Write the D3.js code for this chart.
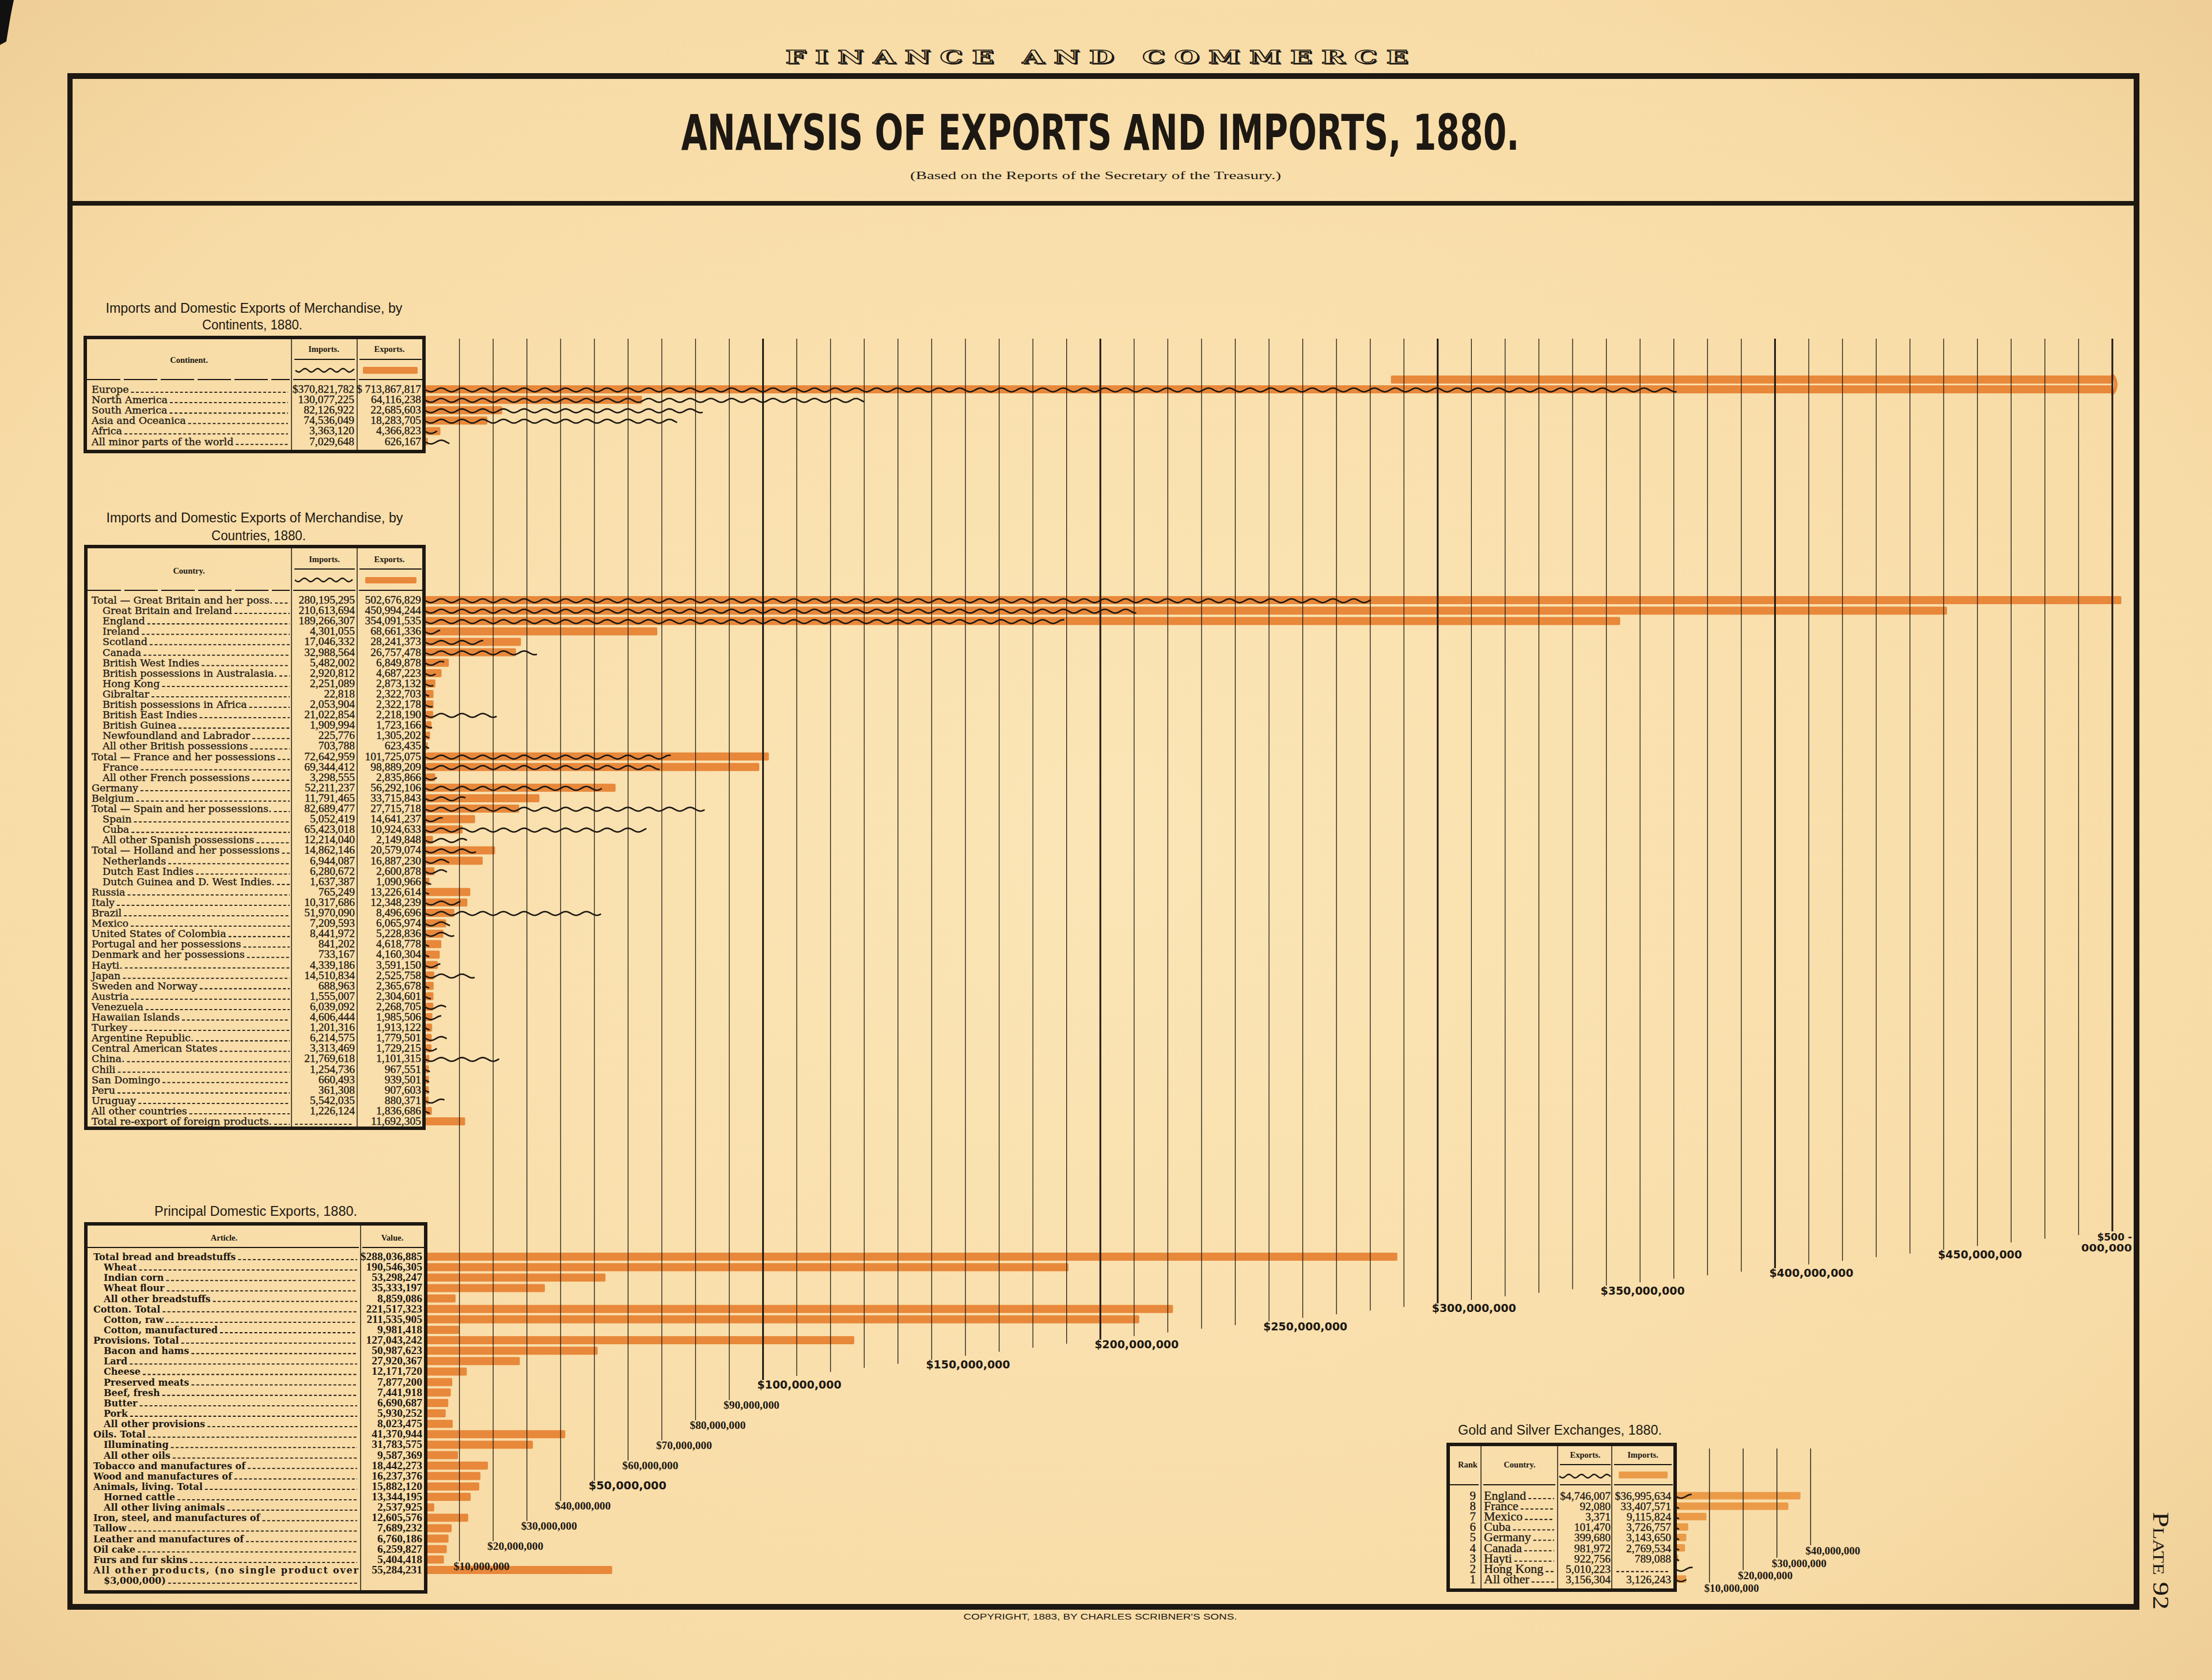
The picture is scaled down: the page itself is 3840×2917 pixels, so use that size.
<!DOCTYPE html>
<html><head><meta charset="utf-8">
<script src="https://cdn.jsdelivr.net/npm/d3@7"></script>
<style>body{margin:0;background:#f8dea9}svg{display:block}</style>
</head><body>
<script>
// ---------------- DATA ----------------
const continents=["Europe","North America","South America","Asia and Oceanica","Africa","All minor parts of the world"];
const continentImports=[370821782,130077225,82126922,74536049,3363120,7029648];
const continentExports=[713867817,64116238,22685603,18283705,4366823,626167];

const countries=["Total — Great Britain and her poss.","Great Britain and Ireland","England","Ireland","Scotland","Canada","British West Indies","British possessions in Australasia.","Hong Kong","Gibraltar","British possessions in Africa","British East Indies","British Guinea","Newfoundland and Labrador","All other British possessions","Total — France and her possessions","France","All other French possessions","Germany","Belgium","Total — Spain and her possessions.","Spain","Cuba","All other Spanish possessions","Total — Holland and her possessions","Netherlands","Dutch East Indies","Dutch Guinea and D. West Indies.","Russia","Italy","Brazil","Mexico","United States of Colombia","Portugal and her possessions","Denmark and her possessions","Hayti.","Japan","Sweden and Norway","Austria","Venezuela","Hawaiian Islands","Turkey","Argentine Republic.","Central American States","China.","Chili","San Domingo","Peru","Uruguay","All other countries","Total re-export of foreign products."];
const countryIndent=[0,1,1,1,1,1,1,1,1,1,1,1,1,1,1,0,1,1,0,0,0,1,1,1,0,1,1,1,0,0,0,0,0,0,0,0,0,0,0,0,0,0,0,0,0,0,0,0,0,0,0];
const countryImports=[280195295,210613694,189266307,4301055,17046332,32988564,5482002,2920812,2251089,22818,2053904,21022854,1909994,225776,703788,72642959,69344412,3298555,52211237,11791465,82689477,5052419,65423018,12214040,14862146,6944087,6280672,1637387,765249,10317686,51970090,7209593,8441972,841202,733167,4339186,14510834,688963,1555007,6039092,4606444,1201316,6214575,3313469,21769618,1254736,660493,361308,5542035,1226124,null];
const countryExports=[502676829,450994244,354091535,68661336,28241373,26757478,6849878,4687223,2873132,2322703,2322178,2218190,1723166,1305202,623435,101725075,98889209,2835866,56292106,33715843,27715718,14641237,10924633,2149848,20579074,16887230,2600878,1090966,13226614,12348239,8496696,6065974,5228836,4618778,4160304,3591150,2525758,2365678,2304601,2268705,1985506,1913122,1779501,1729215,1101315,967551,939501,907603,880371,1836686,11692305];

const articles=["Total bread and breadstuffs","Wheat","Indian corn","Wheat flour","All other breadstuffs","Cotton.  Total","Cotton, raw","Cotton, manufactured","Provisions.  Total","Bacon and hams","Lard","Cheese","Preserved meats","Beef, fresh","Butter","Pork","All other provisions","Oils.  Total","Illuminating","All other oils","Tobacco and manufactures of","Wood and manufactures of","Animals, living.  Total","Horned cattle","All other living animals","Iron, steel, and manufactures of","Tallow","Leather and manufactures of","Oil cake","Furs and fur skins","All other products, (no single product over"];
const articleIndent=[0,1,1,1,1,0,1,1,0,1,1,1,1,1,1,1,1,0,1,1,0,0,0,1,1,0,0,0,0,0,0];
const articleValues=[288036885,190546305,53298247,35333197,8859086,221517323,211535905,9981418,127043242,50987623,27920367,12171720,7877200,7441918,6690687,5930252,8023475,41370944,31783575,9587369,18442273,16237376,15882120,13344195,2537925,12605576,7689232,6760186,6259827,5404418,55284231];

const goldRanks=[9,8,7,6,5,4,3,2,1];
const goldCountries=["England","France","Mexico","Cuba","Germany","Canada","Hayti","Hong Kong","All other"];
const goldExports=[4746007,92080,3371,101470,399680,981972,922756,5010223,3156304];
const goldImports=[36995634,33407571,9115824,3726757,3143650,2769534,789088,null,3126243];

const gridValuesM=[10,20,30,40,50,60,70,80,90,100,110,120,130,140,150,160,170,180,190,200,210,220,230,240,250,260,270,280,290,300,310,320,330,340,350,360,370,380,390,400,410,420,430,440,450,460,470,480,490,500];
const labeledTicksM=[10,20,30,40,50,60,70,80,90,100,150,200,250,300,350,400,450];
const goldTicksM=[10,20,30,40];

// ---------------- SETUP ----------------
const M=1e6, W=3840, H=2917;
const ink="#1d1812", orange="#e8883b", goldOrange="#eb9b48";
const fmt=d3.format(",");
const svg=d3.select("body").append("svg").attr("width",W).attr("height",H);
const defs=svg.append("defs");
const rg=defs.append("radialGradient").attr("id","paper").attr("cx","50%").attr("cy","50%").attr("r","75%");
rg.append("stop").attr("offset","0%").attr("stop-color","#fbe5b6");
rg.append("stop").attr("offset","70%").attr("stop-color","#f8dca7");
rg.append("stop").attr("offset","100%").attr("stop-color","#eccb92");
svg.append("rect").attr("width",W).attr("height",H).attr("fill","url(#paper)");
svg.append("path").attr("d","M0,0 L24,0 C19,22 15,48 11,72 L0,78 Z").attr("fill","#111");

const x=d3.scaleLinear().domain([0,500*M]).range([739,3667]);
const pxPerM=(x(M)-x(0));
const xg=d3.scaleLinear().domain([0,40*M]).range([2909,2909+40*pxPerM]);
const gridEnd=d3.scaleLinear().domain([10,100,200,300,400,500].map(v=>v*M)).range([2711,2396,2326,2263,2202,2138]);
const goldEnd=d3.scaleLinear().domain([10*M,40*M]).range([2748,2683]);

const contY=d3.scaleBand().domain(continents).range([667,667+6*18.1]);
const countryY=d3.scaleBand().domain(countries).range([1033,1033+51*18.1]);
const articleY=d3.scaleBand().domain(articles).range([2173,2173+31*18.13]);
const goldY=d3.scaleBand().domain(goldCountries).range([2588,2588+9*18.1]);
const mid=(s,d)=>s(d)+s.bandwidth()/2;

// ---------------- FRAME & TITLES ----------------
const frame=svg.append("g").attr("fill",ink);
frame.append("rect").attr("x",117).attr("y",127).attr("width",3597).attr("height",10);
frame.append("rect").attr("x",117).attr("y",127).attr("width",9).attr("height",2668);
frame.append("rect").attr("x",3704).attr("y",127).attr("width",10).attr("height",2668);
frame.append("rect").attr("x",117).attr("y",2785).attr("width",3597).attr("height",10);
frame.append("rect").attr("x",117).attr("y",349).attr("width",3597).attr("height",8);

const t=svg.append("g");
const fc=t.append("g").attr("transform","translate(0,110) scale(1,0.74)");
fc.append("text").attr("x",1915).attr("y",3).attr("text-anchor","middle").attr("font-family","DejaVu Serif").attr("font-weight","bold").attr("font-size",43).attr("letter-spacing",14).attr("textLength",1097).attr("lengthAdjust","spacingAndGlyphs").attr("fill",ink).text("FINANCE AND COMMERCE");
fc.append("text").attr("x",1912).attr("y",0).attr("text-anchor","middle").attr("font-family","DejaVu Serif").attr("font-weight","bold").attr("font-size",43).attr("letter-spacing",14).attr("textLength",1097).attr("lengthAdjust","spacingAndGlyphs").attr("fill","#f8dda8").attr("stroke",ink).attr("stroke-width",2).text("FINANCE AND COMMERCE");
t.append("text").attr("x",1910).attr("y",260).attr("text-anchor","middle").attr("font-family","DejaVu Sans").attr("font-weight","bold").attr("font-size",86).attr("textLength",1455).attr("lengthAdjust","spacingAndGlyphs").attr("fill",ink).text("ANALYSIS OF EXPORTS AND IMPORTS, 1880.");
t.append("text").attr("x",1902).attr("y",311).attr("text-anchor","middle").attr("font-family","Liberation Serif").attr("font-size",19).attr("textLength",644).attr("lengthAdjust","spacingAndGlyphs").attr("fill",ink).text("(Based on the Reports of the Secretary of the Treasury.)");
t.append("text").attr("x",1910).attr("y",2812).attr("text-anchor","middle").attr("font-family","Liberation Sans").attr("font-size",14).attr("textLength",475).attr("lengthAdjust","spacingAndGlyphs").attr("fill",ink).text("COPYRIGHT, 1883, BY CHARLES SCRIBNER'S SONS.");
t.append("text").attr("transform","translate(3738,2710) rotate(90)").attr("text-anchor","middle").attr("font-family","Liberation Serif").attr("font-size",40).attr("font-variant","small-caps").attr("textLength",170).attr("lengthAdjust","spacingAndGlyphs").attr("fill",ink).text("Plate 92");

function secTitle(txt,cx,y,w,anchor){
  t.append("text").attr("x",cx).attr("y",y).attr("text-anchor",anchor||"middle").attr("font-family","Liberation Sans").attr("font-size",23).attr("textLength",w).attr("lengthAdjust","spacingAndGlyphs").attr("fill",ink).text(txt);
}
secTitle("Imports and Domestic Exports of Merchandise, by",441,543,515);
secTitle("Continents, 1880.",438,572,174);
secTitle("Imports and Domestic Exports of Merchandise, by",442,907,515);
secTitle("Countries, 1880.",449,938,164);
secTitle("Principal Domestic Exports, 1880.",444,2111,352);
secTitle("Gold and Silver Exchanges, 1880.",2531,2491,354,"start");

// ---------------- HELPERS ----------------
function wavePath(x0,x1,yc,amp,len){
  amp=amp||3.2; len=len||36;
  const pts=[]; for(let xx=x0; xx<=x1; xx+=1.5) pts.push([xx,yc+amp*Math.sin((xx-x0)/len*2*Math.PI)]);
  pts.push([x1,yc+amp*Math.sin((x1-x0)/len*2*Math.PI)]);
  return d3.line()(pts);
}
function leader(g,x0,x1,y){ if(x1-x0<7) return; g.append("line").attr("x1",x0).attr("x2",x1).attr("y1",y).attr("y2",y).attr("stroke",ink).attr("stroke-width",1.8).attr("stroke-dasharray","5,3.5"); }
function txt(g,s,xx,y,opt){
  const e=g.append("text").attr("x",xx).attr("y",y).attr("fill",ink).attr("stroke",ink).attr("stroke-width",opt.sw==null?0.35:opt.sw)
    .attr("font-family",opt.family).attr("font-size",opt.size).attr("font-weight",opt.weight||"normal").attr("text-anchor",opt.anchor||"start").text(s);
  let w=e.node().getComputedTextLength();
  if(opt.maxX && xx+w>opt.maxX){ e.attr("textLength",opt.maxX-xx).attr("lengthAdjust","spacingAndGlyphs"); w=opt.maxX-xx; }
  if(opt.fit){ e.attr("textLength",opt.fit).attr("lengthAdjust","spacing"); w=opt.fit; }
  return xx+w;
}
function box(g,x0,y0,x1,y1,divs){
  g.append("rect").attr("x",x0).attr("y",y0).attr("width",x1-x0).attr("height",y1-y0).attr("fill","none").attr("stroke",ink).attr("stroke-width",6);
  divs.forEach(d=>g.append("line").attr("x1",d).attr("x2",d).attr("y1",y0+3).attr("y2",y1-3).attr("stroke",ink).attr("stroke-width",1.5));
}
function hline(g,x0,x1,y,dash){ const l=g.append("line").attr("x1",x0).attr("x2",x1).attr("y1",y).attr("y2",y).attr("stroke",ink).attr("stroke-width",1.8); if(dash) l.attr("stroke-dasharray",dash); }
function head(g,s,xx,y){ g.append("text").attr("x",xx).attr("y",y).attr("text-anchor","middle").attr("font-family","Liberation Serif").attr("font-weight","bold").attr("font-size",14.5).attr("fill",ink).text(s); }
function legend(g,wx0,wx1,wy,ox0,ox1,oy0,oy1){
  g.append("path").attr("d",wavePath(wx0,wx1,wy,3,22)).attr("fill","none").attr("stroke",ink).attr("stroke-width",2.4);
  g.append("rect").attr("x",ox0).attr("y",oy0).attr("width",ox1-ox0).attr("height",oy1-oy0).attr("rx",2).attr("fill",orange);
}
const nameF={family:"DejaVu Serif",size:17.5};
const numF={family:"Liberation Serif",size:19.5,anchor:"end"};

// ---------------- BARS (drawn below grid) ----------------
const bars=svg.append("g");
const BH=14;
function bar(val,yc,col,scale){ const s=scale||x; bars.append("rect").attr("x",s(0)).attr("y",yc-BH/2).attr("width",Math.max(0,s(val)-s(0))).attr("height",BH).attr("rx",2).attr("fill",col||orange); }
continents.forEach((c,i)=>{
  const yc=mid(contY,c), v=continentExports[i];
  if(v>505*M){
    bar(500*M,yc);
    const over=v-500*M;
    bars.append("rect").attr("x",x(500*M-over)).attr("y",yc-17-BH/2).attr("width",x(500*M)-x(500*M-over)).attr("height",BH).attr("rx",2).attr("fill",orange);
    bars.append("path").attr("d",`M${x(500*M)-2},${yc-17-BH/2} a8,${(17+BH)/2} 0 0 1 0,${17+BH}`).attr("fill","none").attr("stroke",orange).attr("stroke-width",6);
  } else bar(v,yc);
});
countries.forEach((c,i)=>bar(countryExports[i],mid(countryY,c)));
articles.forEach((a,i)=>bar(articleValues[i],mid(articleY,a)));
goldCountries.forEach((c,i)=>{ if(goldImports[i]!=null) bars.append("rect").attr("x",xg(0)).attr("y",mid(goldY,c)-6.5).attr("width",xg(goldImports[i])-xg(0)).attr("height",13).attr("rx",2).attr("fill",goldOrange); });

// ---------------- GRID ----------------
const grid=svg.append("g");
gridValuesM.forEach(m=>{
  const v=m*M;
  grid.append("line").attr("x1",x(v)).attr("x2",x(v)).attr("y1",588).attr("y2",gridEnd(v)).attr("stroke",ink).attr("stroke-width",m%100===0?3:1.3);
});
labeledTicksM.forEach(m=>{
  const v=m*M, major=m%50===0, s=d3.format("$,")(v);
  grid.append("text").attr("x",x(v)-10).attr("y",gridEnd(v)+15)
    .attr("font-family",major?"DejaVu Sans":"Liberation Serif").attr("font-weight","bold").attr("font-size",19)
    .attr("textLength",major?(s.length>11?146:135):97).attr("lengthAdjust","spacingAndGlyphs").attr("fill",ink).text(s);
});
grid.append("text").attr("x",3701).attr("y",2154).attr("text-anchor","end").attr("font-family","DejaVu Sans").attr("font-weight","bold").attr("font-size",17).attr("fill",ink).text("$500 -");
grid.append("text").attr("x",3701).attr("y",2173).attr("text-anchor","end").attr("font-family","DejaVu Sans").attr("font-weight","bold").attr("font-size",17).attr("textLength",88).attr("lengthAdjust","spacingAndGlyphs").attr("fill",ink).text("000,000");
goldTicksM.forEach(m=>{
  const v=m*M;
  grid.append("line").attr("x1",xg(v)).attr("x2",xg(v)).attr("y1",2515).attr("y2",goldEnd(v)).attr("stroke",ink).attr("stroke-width",1.4);
  grid.append("text").attr("x",xg(v)-9).attr("y",goldEnd(v)+16).attr("font-family","Liberation Serif").attr("font-weight","bold").attr("font-size",19).attr("textLength",95).attr("lengthAdjust","spacingAndGlyphs").attr("fill",ink).text(d3.format("$,")(v));
});

// ---------------- WAVY IMPORT LINES ----------------
const waves=svg.append("g").attr("fill","none").attr("stroke",ink).attr("stroke-width",2.6);
function wave(val,yc,scale){ const s=scale||x; if(val==null) return; const x1=Math.max(s(val),s(0)+6); waves.append("path").attr("d",wavePath(s(0),x1,yc+1)); }
continents.forEach((c,i)=>wave(continentImports[i],mid(contY,c)));
countries.forEach((c,i)=>wave(countryImports[i],mid(countryY,c)));
goldCountries.forEach((c,i)=>wave(goldExports[i],mid(goldY,c),xg));

// ---------------- TABLES ----------------
const tb=svg.append("g");
// Continents
box(tb,148,586,736,784,[506,620]);
head(tb,"Continent.",328,630); head(tb,"Imports.",562,611); head(tb,"Exports.",676,611);
hline(tb,511,616,624); hline(tb,624,732,624);
legend(tb,513,615,643,630,725,637,649);
hline(tb,151,503,659,"58,6"); hline(tb,509,617,659); hline(tb,623,733,659);
continents.forEach((c,i)=>{
  const yc=mid(contY,c);
  const e=txt(tb,c,159,yc+6,Object.assign({maxX:500},nameF));
  leader(tb,e+4,500,yc+5);
  txt(tb,(i===0?"$":"")+fmt(continentImports[i]),615,yc+6,numF);
  txt(tb,(i===0?"$ ":"")+fmt(continentExports[i]),731,yc+6,numF);
});
// Countries
box(tb,149,949,736,1959,[506,620]);
head(tb,"Country.",328,996); head(tb,"Imports.",563,976); head(tb,"Exports.",676,976);
hline(tb,511,616,988); hline(tb,624,732,988);
legend(tb,512,612,1007,634,723,1002,1013);
hline(tb,152,503,1025,"58,6"); hline(tb,509,617,1025); hline(tb,623,733,1025);
countries.forEach((c,i)=>{
  const yc=mid(countryY,c), xx=159+(countryIndent[i]?19:0);
  const e=txt(tb,c,xx,yc+6,Object.assign({maxX:503},nameF));
  leader(tb,e+4,503,yc+5);
  if(countryImports[i]==null) leader(tb,512,614,yc+5); else txt(tb,fmt(countryImports[i]),616,yc+6,numF);
  txt(tb,fmt(countryExports[i]),731,yc+6,numF);
});
// Principal domestic exports
box(tb,149,2125,739,2764,[626]);
head(tb,"Article.",389,2154); head(tb,"Value.",681,2154);
hline(tb,152,623,2166); hline(tb,629,736,2166);
const artF={family:"DejaVu Serif",size:16,weight:"bold",sw:0};
articles.forEach((a,i)=>{
  const yc=mid(articleY,a), xx=162+(articleIndent[i]?18:0);
  if(i===articles.length-1){
    txt(tb,a,xx,yc+6,Object.assign({fit:622-xx},artF));
    const e2=txt(tb,"$3,000,000)",180,yc+24,artF);
    leader(tb,e2+4,620,yc+23);
  } else {
    const e=txt(tb,a,xx,yc+6,Object.assign({maxX:620},artF));
    leader(tb,e+4,620,yc+5);
  }
  txt(tb,(i===0?"$":"")+fmt(articleValues[i]),733,yc+6,{family:"Liberation Serif",size:19.5,weight:"bold",anchor:"end",sw:0});
});
// Gold and silver
box(tb,2514,2508,2908,2761,[2571,2704,2798]);
head(tb,"Rank",2548,2548); head(tb,"Country.",2638,2548); head(tb,"Exports.",2752,2531); head(tb,"Imports.",2852,2531);
hline(tb,2708,2796,2543); hline(tb,2802,2902,2543);
tb.append("path").attr("d",wavePath(2707,2796,2563,3,22)).attr("fill","none").attr("stroke",ink).attr("stroke-width",2.4);
tb.append("rect").attr("x",2810).attr("y",2555).attr("width",85).attr("height",12).attr("rx",2).attr("fill",goldOrange);
hline(tb,2517,2567,2578); hline(tb,2575,2700,2578); hline(tb,2708,2796,2578); hline(tb,2802,2904,2578);
goldCountries.forEach((c,i)=>{
  const yc=mid(goldY,c);
  txt(tb,String(goldRanks[i]),2562,yc+7,{family:"Liberation Serif",size:21,anchor:"end"});
  const e=txt(tb,c,2576,yc+7,{family:"Liberation Serif",size:22,maxX:2698});
  leader(tb,e+4,2698,yc+5);
  txt(tb,(i===0?"$":"")+fmt(goldExports[i]),2796,yc+7,numF);
  if(goldImports[i]==null) leader(tb,2806,2898,yc+5); else txt(tb,(i===0?"$":"")+fmt(goldImports[i]),2901,yc+7,numF);
});
</script>
</body></html>
